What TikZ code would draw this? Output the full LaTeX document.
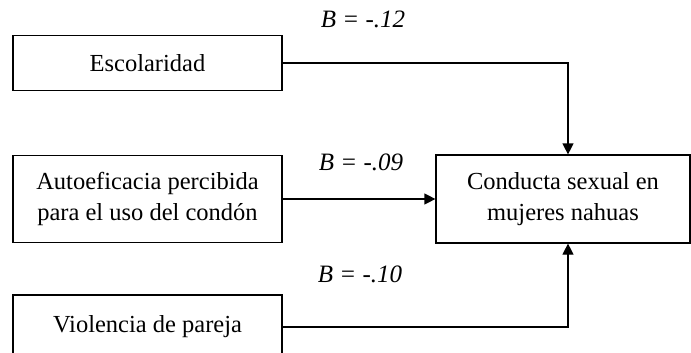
\documentclass[tikz,border=0pt]{standalone}
\usepackage{fontspec}
\setmainfont{Liberation Serif}
\usetikzlibrary{arrows.meta}

\begin{document}
\begin{tikzpicture}[x=1pt, y=-1pt, line width=1.2pt,
            every node/.style={font=\fontsize{24.5}{31}\selectfont},
            var/.style={draw, align=center, inner sep=0pt, minimum width=269pt},
            coef/.style={font=\fontsize{25}{31}\selectfont\itshape},
            arr/.style={-{Triangle[length=11pt, width=11pt]}}]
            \useasboundingbox (0, 0) rectangle (691, 353);

            \node[var, minimum height=55pt] (esc) at (147.5, 63) {Escolaridad};
            \node[var, minimum height=87pt] (auto) at (147.5, 199) {Autoeficacia percibida\\para el uso del cond\'on};
            \node[var, minimum height=64pt] (viol) at (147.5, 327) {Violencia de pareja};
            \node[draw, align=center, inner sep=0pt, minimum width=254pt, minimum height=88pt] (cond) at (563, 199) {Conducta sexual en\\mujeres nahuas};

            \draw[arr] (esc.east) -| ([xshift=5pt]cond.north);
            \draw[arr] (auto.east) -- (cond.west);
            \draw[arr] (viol.east) -| ([xshift=5pt]cond.south);

            \node[coef] (b1) at (363, 19) {B = -.12};
            \node[coef] (b2) at (361, 162) {B = -.09};
            \node[coef] (b3) at (360, 274) {B = -.10};
        \end{tikzpicture}
\end{document}
